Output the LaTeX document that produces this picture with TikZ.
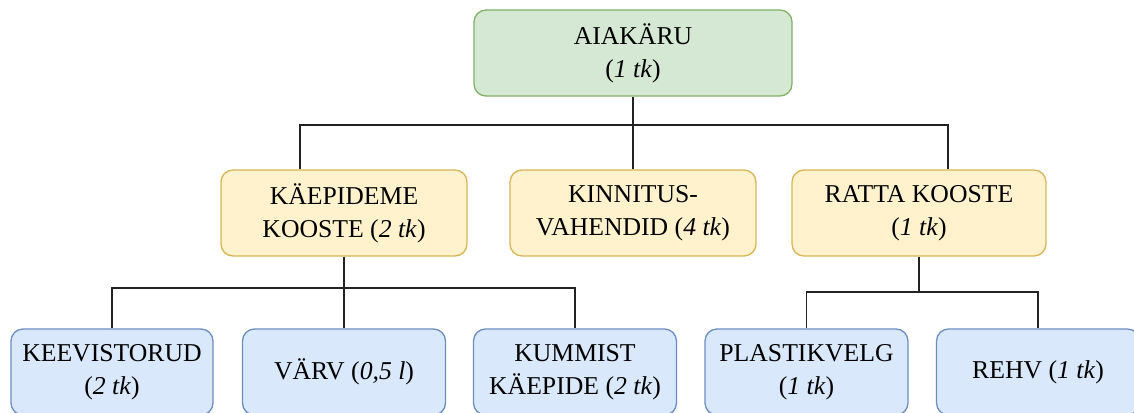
\documentclass[tikz,border=0pt]{standalone}
\usepackage{fontspec}
\setmainfont{Liberation Serif}
\begin{document}
\begin{tikzpicture}[x=1pt,y=-1pt,
  box/.style={rounded corners=12pt, line width=1.3pt, align=center,
    minimum height=86pt, inner sep=0pt,
    font=\fontsize{25.7}{33}\selectfont},
  rootbox/.style={box, fill={rgb,255:red,213;green,232;blue,212}, draw={rgb,255:red,130;green,179;blue,102}},
  midbox/.style={box, fill={rgb,255:red,255;green,242;blue,204}, draw={rgb,255:red,214;green,182;blue,86}},
  leafbox/.style={box, fill={rgb,255:red,218;green,232;blue,252}, draw={rgb,255:red,108;green,142;blue,191}},
  link/.style={line width=1.4pt, draw={rgb,255:red,34;green,34;blue,34}}]
\useasboundingbox (0,0) rectangle (1134,412);
\clip (0,0) rectangle (1134,412);
\fill[white] (0,0) rectangle (1134,412);

% top level
\node[rootbox, minimum width=318pt] (root) at (633,53) {AIAKÄRU\\(\textit{1 tk})};

% middle level
\node[midbox, minimum width=246pt] (kaep) at (344,213) {KÄEPIDEME\\KOOSTE (\textit{2 tk})};
\node[midbox, minimum width=246pt] (kinn) at (633,213) {KINNITUS-\\VAHENDID (\textit{4 tk})};
\node[midbox, minimum width=254pt] (ratta) at (919,213) {RATTA KOOSTE\\(\textit{1 tk})};

% bottom level
\node[leafbox, minimum width=202pt] (keev) at (112,372) {KEEVISTORUD\\(\textit{2 tk})};
\node[leafbox, minimum width=203pt] (varv) at (344,372) {VÄRV (\textit{0,5 l})};
\node[leafbox, minimum width=203pt] (kumm) at (575,372) {KUMMIST\\KÄEPIDE (\textit{2 tk})};
\node[leafbox, minimum width=203pt] (plast) at (806.5,372) {PLASTIKVELG\\(\textit{1 tk})};
\node[leafbox, minimum width=203pt] (rehv) at (1038,372) {REHV (\textit{1 tk})};

% bus lines
\coordinate (busA) at (633,125);
\coordinate (busB) at (344,288);
\coordinate (busC) at (919,292);

\draw[link] (root.south) -- (kinn.north);
\draw[link] ([xshift=-44pt]kaep.north) |- (busA) -| ([xshift=29pt]ratta.north);

\draw[link] (kaep.south) -- (varv.north);
\draw[link] (keev.north) |- (busB) -| (kumm.north);

\draw[link] (ratta.south) -- (busC);
\draw[link] (plast.north) |- (busC) -| (rehv.north);
\end{tikzpicture}
\end{document}
